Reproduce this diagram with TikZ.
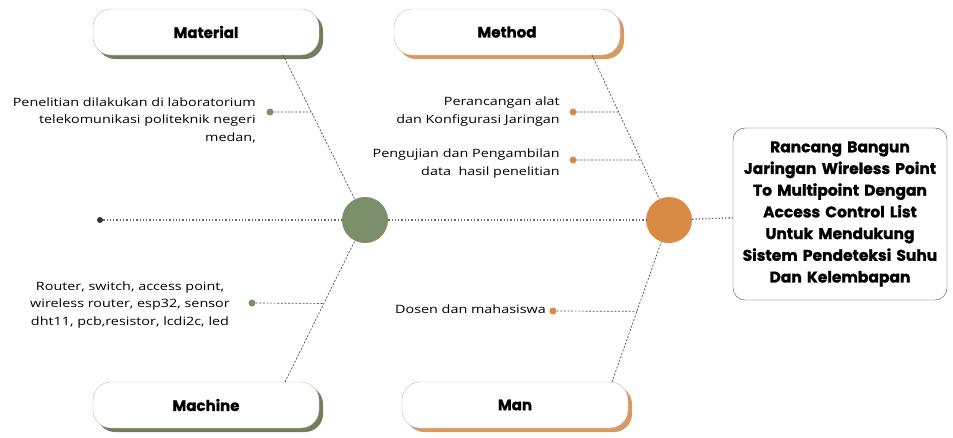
\documentclass[tikz,border=0pt]{standalone}
\usepackage{fontspec}
\setmainfont{Open Sans}
\newfontfamily\headfont[FakeBold=1.2]{Poppins}
\newfontfamily\causefont[FakeStretch=1.25]{Open Sans}
\usepackage{tikz}
\usetikzlibrary{shadows,calc}
\definecolor{sage}{HTML}{7C8F6B}
\definecolor{sageshade}{HTML}{6F7E5C}
\definecolor{ochre}{HTML}{D98A45}
\definecolor{ochreshade}{HTML}{D89A5F}
\definecolor{boneline}{HTML}{505050}

\begin{document}
\begin{tikzpicture}[x=1pt,y=-1pt,
    headbox/.style={draw=gray!55, fill=white, rounded corners=18pt,
        minimum width=226pt, minimum height=46pt,
        font=\headfont\bfseries\fontsize{15}{17}\selectfont,
        drop shadow={shadow xshift=4pt, shadow yshift=-4pt, opacity=1, fill=#1}},
    joint/.style={circle, fill=#1, minimum size=46pt, inner sep=0pt},
    tip/.style={circle, fill=#1, minimum size=7pt, inner sep=0pt},
    bone/.style={draw=boneline, dash pattern=on 2pt off 1.6pt, line width=0.7pt},
    spine/.style={draw=boneline!85, line width=1.3pt, dash pattern=on 1.3pt off 2pt},
    cause/.style={font=\causefont\fontsize{11.5}{17.5}\selectfont, inner sep=0pt}
]
    \useasboundingbox (0,0) rectangle (953,437);

    % Category heads
    \node[headbox=sageshade]  (material) at (206,32)  {Material};
    \node[headbox=ochreshade] (method)   at (507,32)  {Method};
    \node[headbox=sageshade]  (machine)  at (206,405) {Machine};
    \node[headbox=ochreshade] (man)      at (515,405) {Man};

    % Effect
    \node[draw=gray!60!black, fill=white, rounded corners=12pt, text width=210pt,
        align=center, minimum height=172pt, inner sep=2pt,
        font=\headfont\bfseries\fontsize{15.5}{21.7}\selectfont] (effect) at (840,214)
        {Rancang Bangun\\Jaringan Wireless Point\\To Multipoint Dengan\\Access Control List\\
         Untuk Mendukung\\Sistem Pendeteksi Suhu\\Dan Kelembapan};

    % Joints on the spine
    \node[joint=sage]  (jleft)  at (365,220) {};
    \node[joint=ochre] (jright) at (669,220) {};
    \node[tip=black!80, minimum size=6pt] (tail) at (100,220) {};

    % Spine
    \draw[spine] (tail) -- (jleft);
    \draw[spine] (jleft) -- (jright);
    \draw[spine] (jright) -- (effect);

    % Bones
    \coordinate (matfoot)  at (283,55);
    \coordinate (machfoot) at (285,382);
    \coordinate (metfoot)  at (592,55);
    \coordinate (manfoot)  at (612,382);
    \draw[bone] (matfoot) -- (jleft);
    \draw[bone] (machfoot) -- (jleft);
    \draw[bone] (metfoot) -- (jright);
    \draw[bone] (manfoot) -- (jright);

    % Causes
    \node[tip=sage] (dlab) at (270,112) {};
    \draw[bone] (dlab) -- ($(matfoot)!0.345!(jleft)$);
    \node[cause, align=right, anchor=east] (tlab) at (256,120)
        {Penelitian dilakukan di laboratorium\\telekomunikasi politeknik negeri\\medan,};

    \node[tip=sage] (dtool) at (252,303) {};
    \draw[bone] (dtool) -- ($(machfoot)!0.485!(jleft)$);
    \node[cause, align=center] (ttool) at (130,305)
        {Router, switch, access point,\\wireless router, esp32, sensor\\dht11, pcb,resistor, lcdi2c, led};

    \node[tip=ochre] (ddesign) at (573,112) {};
    \draw[bone] (ddesign) -- ($(metfoot)!0.345!(jright)$);
    \node[cause, align=right, anchor=east] (tdesign) at (560,111.5)
        {Perancangan alat\\dan Konfigurasi Jaringan};

    \node[tip=ochre] (dtest) at (573,160) {};
    \draw[bone] (dtest) -- ($(metfoot)!0.636!(jright)$);
    \node[cause, align=right, anchor=east] (ttest) at (560,163.5)
        {Pengujian dan Pengambilan\\data\ \ hasil penelitian};

    \node[tip=ochre] (dpeople) at (553,311) {};
    \draw[bone] (dpeople) -- ($(manfoot)!0.436!(jright)$);
    \node[cause, anchor=east] (tpeople) at (546,309) {Dosen dan mahasiswa};
\end{tikzpicture}
\end{document}
